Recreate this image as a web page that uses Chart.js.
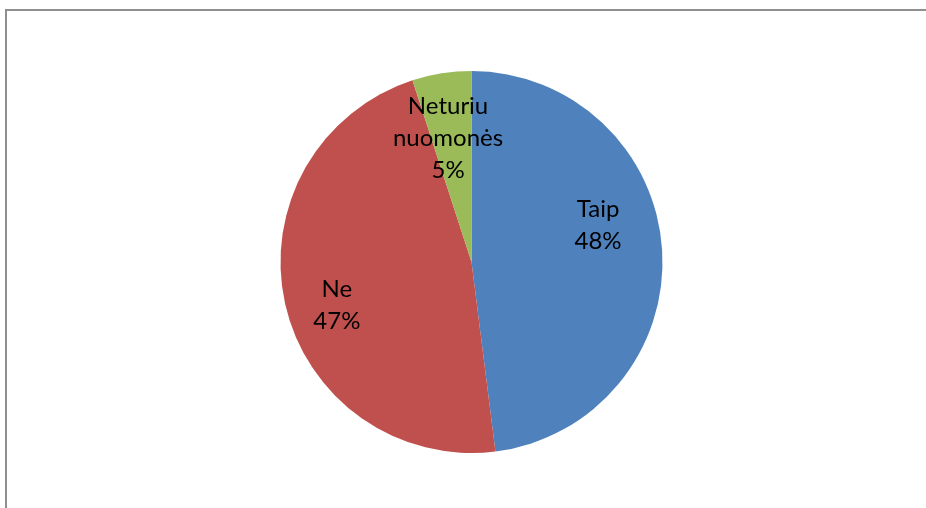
<!DOCTYPE html>
<html lang="lt">
<head>
  <meta charset="UTF-8">
  <title>Apklausos rezultatai</title>
  <script src="https://cdn.jsdelivr.net/npm/chart.js"></script>
  <style>
    html, body { margin: 0; padding: 0; background: #fff; overflow: hidden; }
    .wrap { position: relative; width: 926px; height: 508px; }
    .frame { position: absolute; left: 5px; top: 9px; width: 940px; height: 520px;
             border-left: 2px solid #8f8f8f; border-top: 2px solid #8f8f8f; }
    canvas { position: absolute; left: 0; top: 0; }
  </style>
</head>
<body>
  <div class="wrap">
    <div class="frame"></div>
    <canvas id="pie" width="926" height="508"></canvas>
  </div>

  <script>
    const answers = ['Taip', 'Ne', 'Neturiu nuomonės'];
    const answerLines = [['Taip'], ['Ne'], ['Neturiu', 'nuomonės']];
    const shares = [48, 47, 5];
    const sliceColors = ['#4f81bd', '#c0504d', '#9bbb59'];

    // label text inside each slice: name + percentage
    const sliceLabels = {
      id: 'sliceLabels',
      afterDatasetsDraw(chart, args, opts) {
        const ctx = chart.ctx;
        const meta = chart.getDatasetMeta(0);
        const total = shares.reduce((a, b) => a + b, 0);
        ctx.save();
        ctx.font = opts.size + 'px ' + opts.family;
        ctx.fillStyle = '#000';
        ctx.textAlign = 'center';
        ctx.textBaseline = 'middle';
        meta.data.forEach((arc, i) => {
          const p = arc.getProps(['x', 'y', 'startAngle', 'endAngle', 'outerRadius'], true);
          const mid = (p.startAngle + p.endAngle) / 2 + (opts.shift[i] || 0);
          const r = p.outerRadius * opts.dist[i];
          const cx = p.x + Math.cos(mid) * r;
          const cy = p.y + Math.sin(mid) * r;
          const lines = answerLines[i].concat([Math.round(shares[i] / total * 100) + '%']);
          const top = cy - (lines.length - 1) * opts.lineHeight / 2;
          lines.forEach((t, k) => ctx.fillText(t, cx, top + k * opts.lineHeight));
        });
        ctx.restore();
      }
    };

    new Chart(document.getElementById('pie'), {
      type: 'pie',
      data: {
        labels: answers,
        datasets: [{
          data: shares,
          backgroundColor: sliceColors,
          borderWidth: 0
        }]
      },
      options: {
        responsive: false,
        animation: false,
        layout: { padding: { top: 71, bottom: 55, left: 17, right: 0 } },
        plugins: {
          legend: { display: false },
          tooltip: { enabled: false },
          sliceLabels: {
            family: 'Lato, "Open Sans", sans-serif',
            size: 24,
            lineHeight: 32,
            dist: [0.69, 0.74, 0.66],
            shift: [-0.22, -0.09, -0.03]
          }
        }
      },
      plugins: [sliceLabels]
    });
  </script>
</body>
</html>
